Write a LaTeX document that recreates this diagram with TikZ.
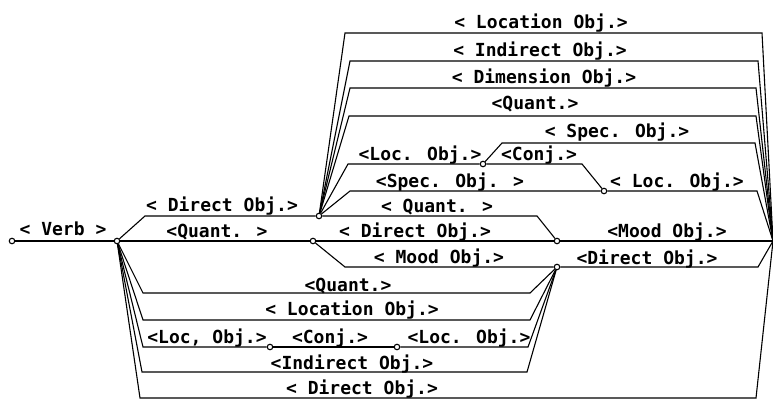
\documentclass[tikz,border=0pt]{standalone}
\usepackage{fontspec}
\newfontfamily\lblfont{DejaVu Sans Mono Bold}

\tikzset{
  junc/.style={circle, draw, fill=white, inner sep=0pt, minimum size=5.5pt},
  lbl/.style={font=\lblfont\fontsize{18}{20}\selectfont, anchor=base, inner sep=0pt},
}

\begin{document}
\begin{tikzpicture}[x=1pt, y=-1pt, line width=1.1pt]

  \useasboundingbox (0,0) rectangle (773,401);

  %% junctions
  \node[junc] (v0) at (12,241) {};
  \node[junc] (v1) at (117,241) {};
  \node[junc] (v2) at (319,216) {};
  \node[junc] (v3) at (313,241) {};
  \node[junc] (v4) at (557,267) {};
  \node[junc] (v5) at (557,241) {};
  \node[junc] (c1) at (483,164) {};
  \node[junc] (c2) at (604,191) {};
  \node[junc] (d1) at (270,347) {};
  \node[junc] (d2) at (397,347) {};
  \coordinate (fin) at (773,241);

  \draw (v0) -- (v1); %% verb
  \draw (v1) -- (145,216) -- (v2); %% 1 -> 2
  \draw (v1) -- (v3); %% 1 -> 3
  \draw (v3) -- (v5); %% 3 -> 5
  \draw (v3) -- (345,267) -- (v4); %% 3 -> 4
  \draw (v2) -- (537,216) -- (v5); %% 2 -> 5
  \draw (v5) -- (fin);
  \draw (v4) -- (758,267) -- (fin);

  %% upper branches of 2
  \draw (v2) -- (345,33) -- (762,33) -- (fin);
  \draw (v2) -- (350,61) -- (758,61) -- (fin);
  \draw (v2) -- (350,88) -- (756,88) -- (fin);
  \draw (v2) -- (349,116) -- (756,116) -- (fin);
  \draw (v2) -- (348,164) -- (c1);
  \draw (c1) -- (502,143) -- (755,143) -- (fin);
  \draw (c1) -- (582,164) -- (c2);
  \draw (v2) -- (350,191) -- (c2);
  \draw (c2) -- (757,191) -- (fin);

  %% lower branches of 1
  \draw (v1) -- (143,293) -- (530,293) -- (v4);
  \draw (v1) -- (143,320) -- (530,320) -- (v4);
  \draw (v1) -- (143,347) -- (d1);
  \draw (d1) -- (d2);
  \draw (d2) -- (528,347) -- (v4);
  \draw (v1) -- (142,372) -- (527,372) -- (v4);
  \draw (v1) -- (140,398) -- (756,398) -- (fin);

  %% labels
  \node[lbl] (verb) at (63,235) {< Verb >};
  \node[lbl] (dir1) at (222,211) {< Direct Obj.>};
  \node[lbl] (qua1) at (217,237) {<Quant. >};

  \node[lbl] (loc1) at (541,29) {< Location Obj.>};
  \node[lbl] (ind1) at (540,57) {< Indirect Obj.>};
  \node[lbl] (dim1) at (544,84) {< Dimension Obj.>};
  \node[lbl] (qua2) at (535,110) {<Quant.>};
  \node[lbl] (spe1) at (617,138) {< Spec. Obj.>};
  \node[lbl] (loc2) at (420,160) {<Loc. Obj.>};
  \node[lbl] (con1) at (539,160) {<Conj.>};
  \node[lbl] (spe2) at (450,187) {<Spec. Obj. >};
  \node[lbl] (loc3) at (677,187) {< Loc. Obj.>};
  \node[lbl] (qua3) at (437,212) {< Quant. >};
  \node[lbl] (dir2) at (415,237) {< Direct Obj.>};
  \node[lbl] (moo1) at (667,237) {<Mood Obj.>};
  \node[lbl] (moo2) at (439,263) {< Mood Obj.>};
  \node[lbl] (dir3) at (647,264) {<Direct Obj.>};

  \node[lbl] (qua4) at (348,291) {<Quant.>};
  \node[lbl] (loc4) at (352,315) {< Location Obj.>};
  \node[lbl] (loc5) at (207,343) {<Loc, Obj.>};
  \node[lbl] (con2) at (330,343) {<Conj.>};
  \node[lbl] (loc6) at (469,343) {<Loc. Obj.>};
  \node[lbl] (ind2) at (352,369) {<Indirect Obj.>};
  \node[lbl] (dir4) at (362,394) {< Direct Obj.>};

\end{tikzpicture}
\end{document}
